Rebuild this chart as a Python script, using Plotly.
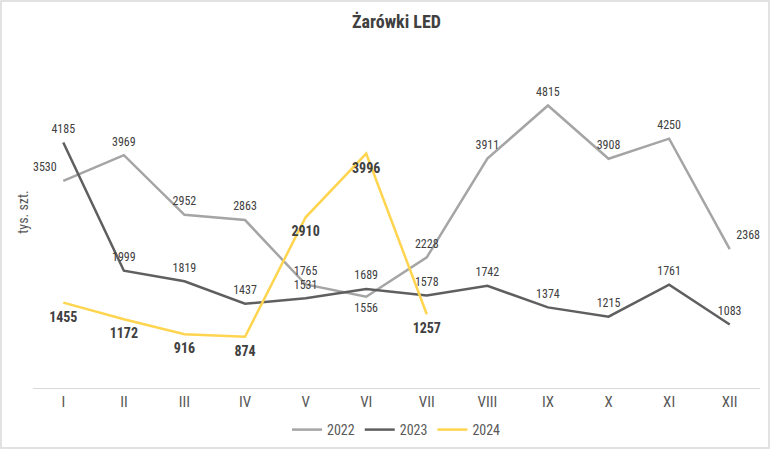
import plotly.graph_objects as go

months = ["I", "II", "III", "IV", "V", "VI", "VII", "VIII", "IX", "X", "XI", "XII"]
v2022 = [3530, 3969, 2952, 2863, 1765, 1556, 2228, 3911, 4815, 3908, 4250, 2368]
v2023 = [4185, 1999, 1819, 1437, 1531, 1689, 1578, 1742, 1374, 1215, 1761, 1083]
v2024 = [1455, 1172, 916, 874, 2910, 3996, 1257]

FONT = "Liberation Sans Narrow, Arial Narrow, Roboto Condensed, sans-serif"
W, H = 770, 449
ML, MR, MT, MB = 33, 10, 36, 61

pos22 = ["top left", "top center", "top center", "top center", "top center", "bottom center",
         "top center", "top center", "top center", "top center", "top center", "top right"]

hidden = dict(size=9, color="rgba(0,0,0,0)")

fig = go.Figure()
fig.add_trace(go.Scatter(x=months, y=v2022, name="2022", mode="lines+markers+text",
                         line=dict(color="#a5a5a5", width=2.5), marker=hidden,
                         text=[str(v) for v in v2022], textposition=pos22,
                         textfont=dict(family=FONT, size=12, color="#404040"),
                         cliponaxis=False))
fig.add_trace(go.Scatter(x=months, y=v2023, name="2023", mode="lines+markers+text",
                         line=dict(color="#5f5f5f", width=2.5), marker=hidden,
                         text=[str(v) for v in v2023], textposition="top center",
                         textfont=dict(family=FONT, size=12, color="#404040"),
                         cliponaxis=False))
fig.add_trace(go.Scatter(x=months[:len(v2024)], y=v2024, name="2024", mode="lines+markers+text",
                         line=dict(color="#ffd44f", width=2.5), marker=dict(size=12, color="rgba(0,0,0,0)"),
                         text=["<b>%d</b>" % v for v in v2024], textposition="bottom center",
                         textfont=dict(family=FONT, size=14, color="#404040"),
                         cliponaxis=False))

pw = W - ML - MR
ph = H - MT - MB
fig.add_shape(type="rect", xref="paper", yref="paper",
              x0=(-ML + 1) / pw, x1=1 + (MR - 1) / pw,
              y0=(-MB + 1) / ph, y1=1 + (MT - 1) / ph,
              line=dict(color="#d9d9d9", width=1.5), fillcolor="rgba(0,0,0,0)", layer="below")

fig.update_layout(
    width=W, height=H,
    margin=dict(l=ML, r=MR, t=MT, b=MB, autoexpand=False),
    paper_bgcolor="white", plot_bgcolor="white",
    title=dict(text="<b>Żarówki LED</b>", x=0.5, xref="paper", xanchor="center",
               y=1 - 22 / H, yref="container", yanchor="middle",
               font=dict(family=FONT, size=18, color="#404040")),
    xaxis=dict(showline=True, linecolor="#d9d9d9", linewidth=1.2, showgrid=False,
               ticks="", tickfont=dict(family=FONT, size=15, color="#595959"),
               range=[-0.5, 11.5], fixedrange=True),
    yaxis=dict(range=[0, 6000], showgrid=False, showticklabels=False, zeroline=False,
               title=dict(text="tys. szt.", font=dict(family=FONT, size=14, color="#595959"),
                          standoff=0)),
    legend=dict(orientation="h", x=0.5, xanchor="center", y=-(430 - 388) / ph,
                yanchor="middle", font=dict(family=FONT, size=14, color="#595959"),
                itemwidth=30, tracegroupgap=0),
    showlegend=True,
)

fig.write_html("out.html")
